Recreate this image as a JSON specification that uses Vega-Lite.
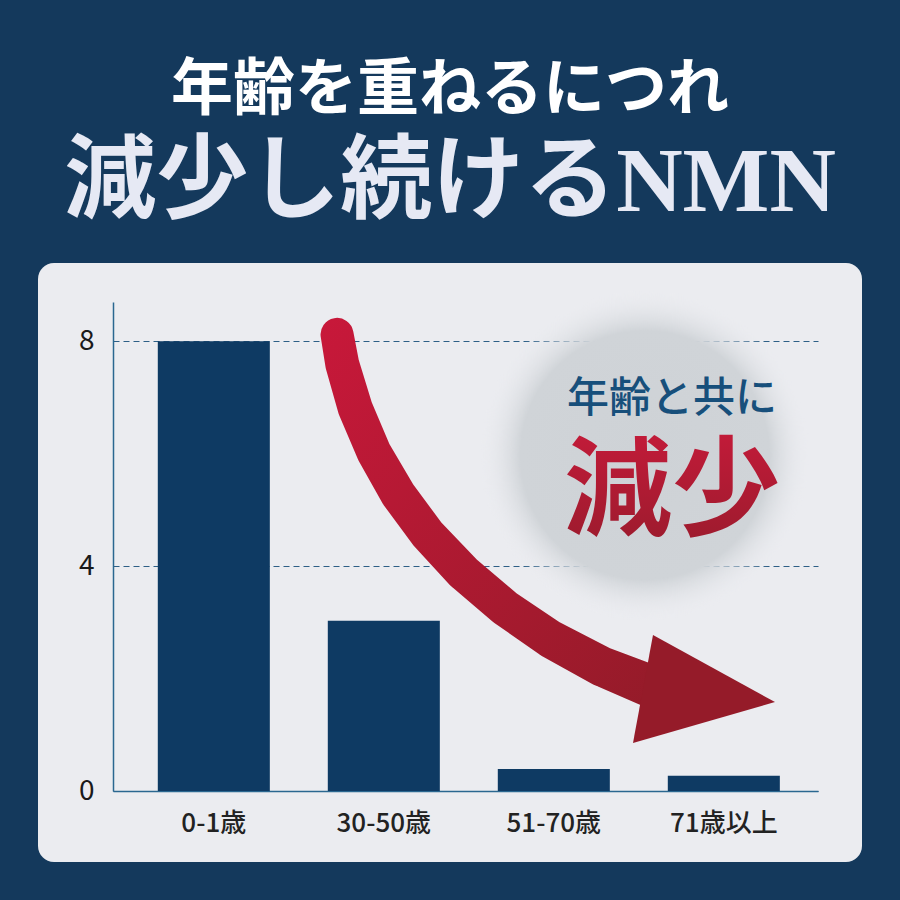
{
  "$schema": "https://vega.github.io/schema/vega-lite/v6.json",
  "width": 824,
  "height": 599,
  "autosize": {"type": "none"},
  "padding": {"left": 38, "top": 263, "right": 38, "bottom": 38},
  "background": "#14395c",
  "config": {"view": {"fill": "#ebecf0", "cornerRadius": 16, "stroke": null}},
  "title": {
    "text": "年齢を重ねるにつれ",
    "subtitle": "減少し続けるNMN",
    "anchor": "middle",
    "frame": "group",
    "font": "'Liberation Serif', 'Noto Sans CJK JP'",
    "fontSize": 62,
    "fontWeight": "bold",
    "color": "#ffffff",
    "subtitleFont": "'Liberation Serif', 'Noto Sans CJK JP'",
    "subtitleFontSize": 92,
    "subtitleFontWeight": "bold",
    "subtitleColor": "#e6e9f4",
    "subtitlePadding": 15,
    "offset": 33
  },
  "layer": [
    {
      "data": {"values": [
        {"age": "0-1歳", "nmn": 8},
        {"age": "30-50歳", "nmn": 3.03},
        {"age": "51-70歳", "nmn": 0.39},
        {"age": "71歳以上", "nmn": 0.27}
      ]},
      "mark": {"type": "bar", "color": "#0e3a63"},
      "encoding": {
        "x": {
          "field": "age", "type": "nominal", "sort": null,
          "scale": {"range": [75, 780], "paddingInner": 0.341, "paddingOuter": 0.244, "align": 0.54},
          "axis": {"title": null, "labelAngle": 0, "ticks": false, "tickSize": 0, "domainColor": "#2a6790", "domainWidth": 1.5, "labelFont": "Noto Sans CJK JP", "labelFontSize": 26, "labelFontWeight": 500, "labelColor": "#222222", "labelPadding": 19, "offset": -71, "grid": false}
        },
        "y": {
          "field": "nmn", "type": "quantitative",
          "scale": {"domain": [0, 8.7], "range": [528, 39], "nice": false, "zero": true},
          "axis": {"title": null, "values": [0, 4, 8], "format": "d", "ticks": false, "tickSize": 0, "domainColor": "#2a6790", "domainWidth": 1.5, "labelFont": "Noto Sans CJK JP", "labelFontSize": 28, "labelColor": "#1a1a1a", "labelPadding": 19, "offset": -75, "grid": true, "gridColor": "#2d5f86", "gridDash": [6, 4], "gridWidth": 1.2}
        }
      }
    },
    {
      "data": {"values": [{"u": 2.535, "v": 5.973}]},
      "mark": {
        "type": "point", "shape": "circle", "filled": true, "size": 110000, "opacity": 1, "strokeWidth": 0,
        "fill": {"gradient": "radial", "x1": 0.5, "y1": 0.5, "r1": 0, "x2": 0.5, "y2": 0.5, "r2": 0.5,
          "stops": [{"offset": 0, "color": "#ced2d6"}, {"offset": 0.75, "color": "#d0d4d8"}, {"offset": 1, "color": "rgba(235,236,240,0)"}]}
      },
      "encoding": {
        "x": {"field": "u", "type": "quantitative", "scale": {"domain": [-1.035, 3.812], "nice": false, "zero": false}, "axis": null},
        "y": {"field": "v", "type": "quantitative", "scale": {"domain": [0, 8.7], "range": [528, 39], "nice": false, "zero": true}}
      }
    },
    {
      "data": {"values": [
        {"i": 1, "u": 0.724, "v": 8.124, "w": 33},
        {"i": 2, "u": 0.755, "v": 7.591, "w": 34},
        {"i": 3, "u": 0.832, "v": 6.802, "w": 35},
        {"i": 4, "u": 0.941, "v": 6.027, "w": 35},
        {"i": 5, "u": 1.084, "v": 5.275, "w": 36},
        {"i": 6, "u": 1.259, "v": 4.560, "w": 36},
        {"i": 7, "u": 1.468, "v": 3.888, "w": 37},
        {"i": 8, "u": 1.709, "v": 3.266, "w": 37},
        {"i": 9, "u": 1.981, "v": 2.702, "w": 38},
        {"i": 10, "u": 2.286, "v": 2.210, "w": 40},
        {"i": 11, "u": 2.624, "v": 1.796, "w": 43}
      ]},
      "mark": {
        "type": "trail", "opacity": 1,
        "fill": {"gradient": "linear", "x1": 0, "y1": 0, "x2": 1, "y2": 1,
          "stops": [{"offset": 0, "color": "#c8183a"}, {"offset": 1, "color": "#921b28"}]}
      },
      "encoding": {
        "x": {"field": "u", "type": "quantitative", "scale": {"domain": [-1.035, 3.812], "nice": false, "zero": false}, "axis": null},
        "y": {"field": "v", "type": "quantitative", "scale": {"domain": [0, 8.7], "range": [528, 39], "nice": false, "zero": true}},
        "order": {"field": "i", "type": "quantitative"},
        "size": {"field": "w", "type": "quantitative", "scale": null, "legend": null}
      }
    },
    {
      "data": {"values": [{"u": 2.859, "v": 1.796}]},
      "mark": {"type": "point", "shape": "M0.9375,0.15L-0.5875,-0.6875L-0.8375,0.6625Z", "size": 25600, "filled": true, "opacity": 1, "fill": "#951b29", "strokeWidth": 0},
      "encoding": {
        "x": {"field": "u", "type": "quantitative", "scale": {"domain": [-1.035, 3.812], "nice": false, "zero": false}, "axis": null},
        "y": {"field": "v", "type": "quantitative", "scale": {"domain": [0, 8.7], "range": [528, 39], "nice": false, "zero": true}}
      }
    },
    {
      "data": {"values": [{"u": 2.694, "v": 6.97, "t": "年齢と共に"}]},
      "mark": {"type": "text", "font": "Noto Sans CJK JP", "fontSize": 42, "fontWeight": 500, "color": "#174f7b", "align": "center", "baseline": "middle"},
      "encoding": {
        "x": {"field": "u", "type": "quantitative", "scale": {"domain": [-1.035, 3.812], "nice": false, "zero": false}, "axis": null},
        "y": {"field": "v", "type": "quantitative", "scale": {"domain": [0, 8.7], "range": [528, 39], "nice": false, "zero": true}},
        "text": {"field": "t"}
      }
    },
    {
      "data": {"values": [{"u": 2.694, "v": 5.26, "t": "減少"}]},
      "mark": {"type": "text", "font": "Noto Sans CJK JP", "fontSize": 108, "fontWeight": "bold", "align": "center", "baseline": "middle",
        "fill": {"gradient": "linear", "x1": 0, "y1": 0, "x2": 0, "y2": 1,
          "stops": [{"offset": 0, "color": "#cc1b3c"}, {"offset": 1, "color": "#981b2c"}]}},
      "encoding": {
        "x": {"field": "u", "type": "quantitative", "scale": {"domain": [-1.035, 3.812], "nice": false, "zero": false}, "axis": null},
        "y": {"field": "v", "type": "quantitative", "scale": {"domain": [0, 8.7], "range": [528, 39], "nice": false, "zero": true}},
        "text": {"field": "t"}
      }
    }
  ],
  "resolve": {"scale": {"x": "independent"}}
}
